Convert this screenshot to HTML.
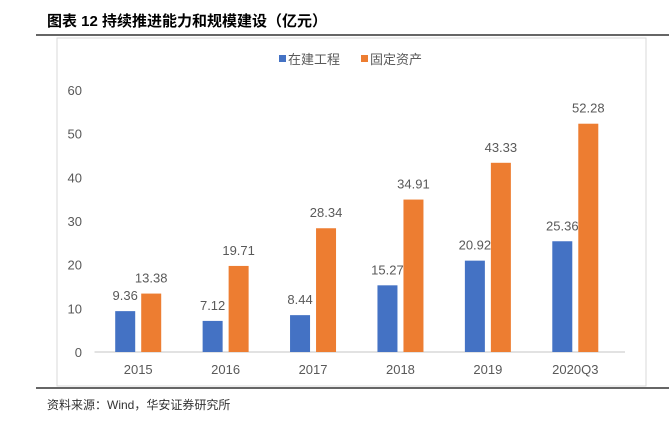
<!DOCTYPE html>
<html><head><meta charset="utf-8"><style>
body{margin:0;width:669px;height:421px;background:#fff;overflow:hidden;font-family:"Liberation Sans","Noto Sans CJK SC",sans-serif;}
</style></head><body>
<svg width="669" height="421" xmlns="http://www.w3.org/2000/svg">
<text x="47" y="26" font-size="15" font-weight="bold" fill="#000" font-family="Liberation Sans,Noto Sans CJK SC,sans-serif">图表 12 持续推进能力和规模建设（亿元）</text>
<line x1="36" y1="35" x2="669" y2="35" stroke="#333" stroke-width="1.5"/>
<rect x="57" y="38" width="589" height="348" fill="none" stroke="#d9d9d9"/>
<g font-size="13" fill="#595959">
<rect x="279" y="55" width="7" height="7" fill="#4472c4"/>
<text x="288" y="64">在建工程</text>
<rect x="361" y="55" width="7" height="7" fill="#ed7d31"/>
<text x="370" y="64">固定资产</text>
</g>
<g id="axes"></g>
<g id="bars"></g>
<line x1="36" y1="388" x2="669" y2="388" stroke="#333" stroke-width="1.5"/>
<text x="47" y="409" font-size="12" fill="#333">资料来源：Wind，华安证券研究所</text>
</svg>
<script>
const categories=["2015","2016","2017","2018","2019","2020Q3"];
const construction=[9.36,7.12,8.44,15.27,20.92,25.36];
const fixedAssets=[13.38,19.71,28.34,34.91,43.33,52.28];
const yTicks=[0,10,20,30,40,50,60];
const NS="http://www.w3.org/2000/svg";
const x0=94.5,x1=619,yBase=352,yTop=90;
const band=(x1-x0)/categories.length;
const y=v=>yBase-(v/60)*(yBase-yTop);
const axes=document.getElementById('axes'),bars=document.getElementById('bars');
function mk(t,a,p){const e=document.createElementNS(NS,t);for(const k in a)e.setAttribute(k,a[k]);p.appendChild(e);return e;}
yTicks.forEach(v=>{const t=mk('text',{x:82,y:y(v)+5,'font-size':13,fill:'#595959','text-anchor':'end'},axes);t.textContent=v;

});
const base=mk('line',{x1:x0,x2:x1+6,y1:yBase,y2:yBase,stroke:'#d9d9d9','stroke-width':1.5},axes);


categories.forEach((c,i)=>{const cx=x0+band*(i+0.5);
const t=mk('text',{x:cx,y:374,'font-size':13,fill:'#595959','text-anchor':'middle'},axes);t.textContent=c;


[[construction[i],'#4472c4',cx-23],[fixedAssets[i],'#ed7d31',cx+3]].forEach(([v,col,bx],k)=>{
const r=mk('rect',{x:bx,y:y(v),width:20,height:yBase-y(v),fill:col},bars);


const l=mk('text',{x:bx+10,y:y(v)-11,'font-size':13,fill:'#595959','text-anchor':'middle'},bars);l.textContent=v.toFixed(2);

});});
</script>
</body></html>
